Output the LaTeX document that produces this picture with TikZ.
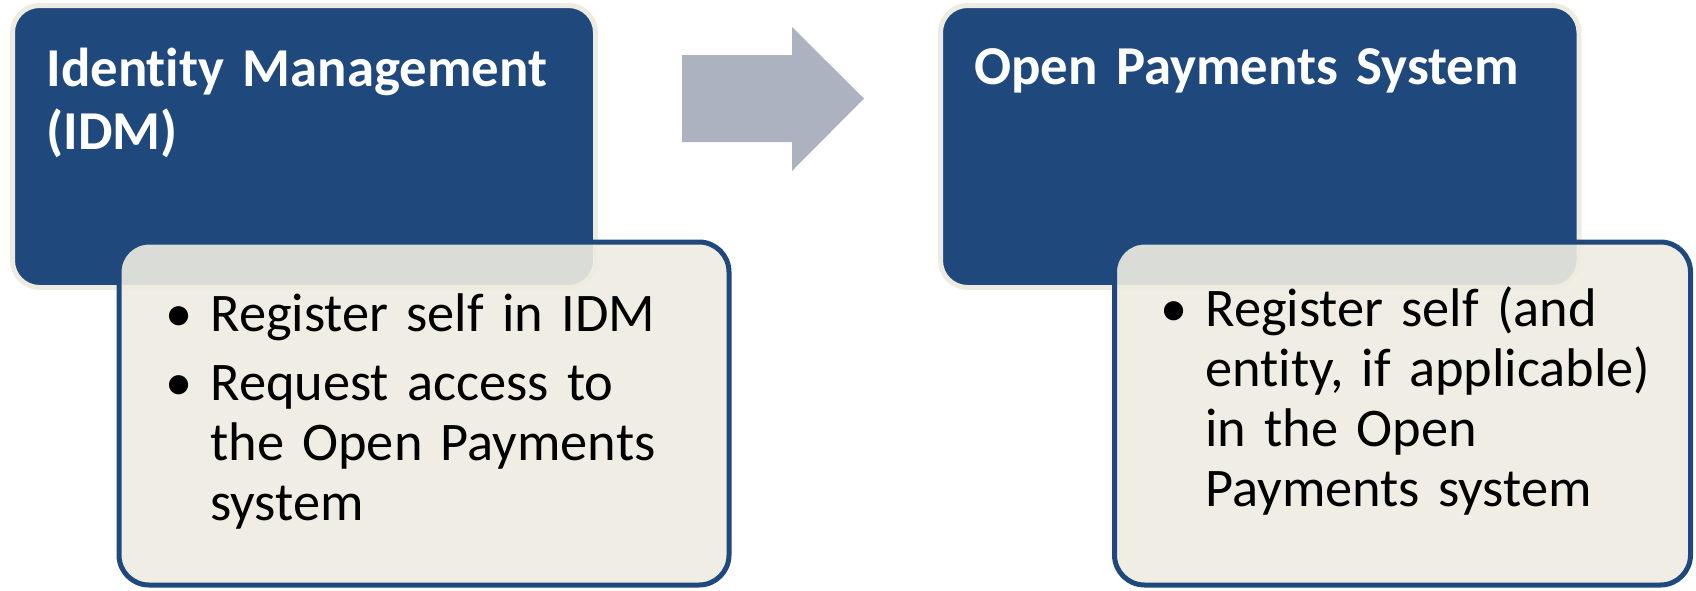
\documentclass[tikz,border=0pt]{standalone}
\usepackage{fontspec}
\setmainfont{Carlito}[Ligatures=NoCommon, WordSpace=0.75]
\definecolor{idmblue}{HTML}{1F497D}
\definecolor{paper}{HTML}{EEECE1}
\definecolor{flowgray}{HTML}{ACB2C0}
\newcommand{\pitem}[1]{\hangindent=22.5pt\hangafter=1\noindent\makebox[22.5pt][l]{\textbullet}#1\par}
\begin{document}
\begin{tikzpicture}[x=0.5pt,y=-0.5pt,
	stage/.style={draw=paper, line width=2.5pt, fill=idmblue, rounded corners=13.5pt, minimum height=141pt, inner sep=0pt},
	detail/.style={draw=idmblue, line width=2.5pt, fill=paper, fill opacity=0.9, rounded corners=15pt, minimum height=171.5pt, inner sep=0pt},
	heading/.style={anchor=base west, text=white, font=\fontsize{27.4}{31.5}\selectfont\bfseries, text width=285pt, align=left, inner sep=0pt},
	bullets/.style={anchor=base west, font=\fontsize{27.2}{30}\selectfont, text width=290pt, align=left, inner sep=0pt}]
	\useasboundingbox (0,0) rectangle (1696,590);
	\node[stage, minimum width=291.5pt] (idm) at (304,146.5) {};
	\node[stage, minimum width=319.25pt] (ops) at (1259.75,146.5) {};
	\node[heading] (idmtitle) at (46,86) {Identity Management\\(IDM)};
	\node[heading] (opstitle) at (974,84) {Open Payments System};
	\fill[flowgray] (682,55) -- (792,55) -- (792,27) -- (864,98.5) -- (792,171) -- (792,142) -- (682,142) -- cycle;
	\node[detail, minimum width=305pt] (idmtasks) at (424,413.5) {};
	\node[detail, minimum width=288pt] (opstasks) at (1402.5,413.5) {};
	\node[bullets] (idmlist) at (165,331) {\pitem{Register self in IDM}\vspace{4.5pt}%
		\pitem{Request access to\newline the Open Payments\newline system}};
	\node[bullets] (opslist) at (1160,326) {\pitem{Register self (and\newline entity, if applicable)\newline in the Open\newline Payments system}};
\end{tikzpicture}
\end{document}
